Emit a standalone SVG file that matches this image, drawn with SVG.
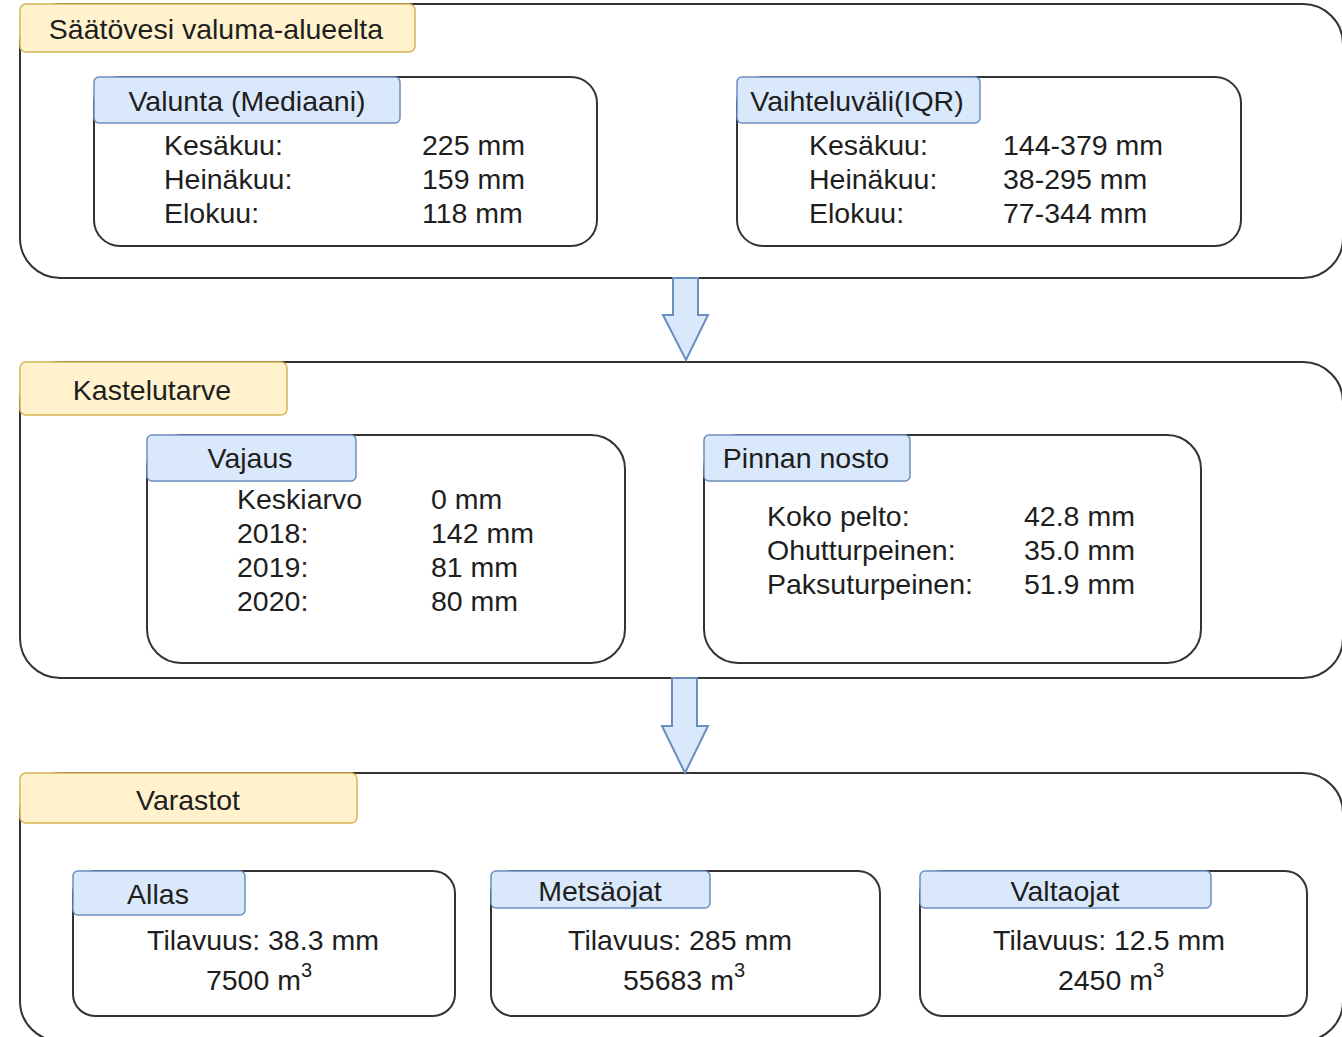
<svg xmlns="http://www.w3.org/2000/svg" width="1342" height="1037" viewBox="0 0 1342 1037">
<style>
.outer{fill:#fff;stroke:#333;stroke-width:2}
.inner{fill:#fff;stroke:#333;stroke-width:2}
.ylab{fill:#fff2cc;stroke:#d6b656;stroke-width:1.5}
.blab{fill:#dae8fc;stroke:#6c8ebf;stroke-width:1.5}
.arrow{fill:#dae8fc;stroke:#6c8ebf;stroke-width:2;stroke-linejoin:miter}
text{font-family:"Liberation Sans",Arial,sans-serif;font-size:28.5px;fill:#1e1e1e}
.c{text-anchor:middle}
.sup{font-size:20px}
</style>
<rect width="1342" height="1037" fill="#fff"/>

<g id="saatovesi">
<rect class="outer" x="20" y="4" width="1323" height="274" rx="40"/>
<rect class="ylab" x="20" y="4" width="395" height="48" rx="6"/>
<text x="216" y="39" class="c">Säätövesi valuma-alueelta</text>
</g>

<g id="valunta">
<rect class="inner" x="94" y="77" width="503" height="169" rx="26"/>
<rect class="blab" x="94" y="77" width="306" height="46" rx="5"/>
<text x="247" y="111" class="c">Valunta (Mediaani)</text>
<text x="164" y="155">Kesäkuu:</text>
<text x="164" y="189">Heinäkuu:</text>
<text x="164" y="223">Elokuu:</text>
<text x="422" y="155">225 mm</text>
<text x="422" y="189">159 mm</text>
<text x="422" y="223">118 mm</text>
</g>

<g id="vaihteluvali">
<rect class="inner" x="737" y="77" width="504" height="169" rx="26"/>
<rect class="blab" x="737" y="77" width="243" height="46" rx="5"/>
<text x="857" y="111" class="c">Vaihteluväli(IQR)</text>
<text x="809" y="155">Kesäkuu:</text>
<text x="809" y="189">Heinäkuu:</text>
<text x="809" y="223">Elokuu:</text>
<text x="1003" y="155">144-379 mm</text>
<text x="1003" y="189">38-295 mm</text>
<text x="1003" y="223">77-344 mm</text>
</g>

<g id="kastelutarve">
<rect class="outer" x="20" y="362" width="1323" height="316" rx="40"/>
<rect class="ylab" x="20" y="362" width="267" height="53" rx="6"/>
<text x="152" y="400" class="c">Kastelutarve</text>
</g>

<g id="vajaus">
<rect class="inner" x="147" y="435" width="478" height="228" rx="34"/>
<rect class="blab" x="147" y="435" width="209" height="46" rx="5"/>
<text x="250" y="468" class="c">Vajaus</text>
<text x="237" y="509">Keskiarvo</text>
<text x="237" y="543">2018:</text>
<text x="237" y="577">2019:</text>
<text x="237" y="611">2020:</text>
<text x="431" y="509">0 mm</text>
<text x="431" y="543">142 mm</text>
<text x="431" y="577">81 mm</text>
<text x="431" y="611">80 mm</text>
</g>

<g id="pinnan-nosto">
<rect class="inner" x="704" y="435" width="497" height="228" rx="34"/>
<rect class="blab" x="704" y="435" width="206" height="46" rx="5"/>
<text x="806" y="468" class="c">Pinnan nosto</text>
<text x="767" y="526">Koko pelto:</text>
<text x="767" y="560">Ohutturpeinen:</text>
<text x="767" y="594">Paksuturpeinen:</text>
<text x="1024" y="526">42.8 mm</text>
<text x="1024" y="560">35.0 mm</text>
<text x="1024" y="594">51.9 mm</text>
</g>

<g id="varastot">
<rect class="outer" x="20" y="773" width="1323" height="268" rx="40"/>
<rect class="ylab" x="20" y="773" width="337" height="50" rx="6"/>
<text x="188" y="810" class="c">Varastot</text>
</g>

<g id="allas">
<rect class="inner" x="73" y="871" width="382" height="145" rx="22"/>
<rect class="blab" x="73" y="871" width="172" height="44" rx="5"/>
<text x="158" y="904" class="c">Allas</text>
<text x="263" y="950" class="c">Tilavuus: 38.3 mm</text>
<text x="259" y="990" class="c">7500 m<tspan class="sup" dy="-13">3</tspan></text>
</g>

<g id="metsaojat">
<rect class="inner" x="491" y="871" width="389" height="145" rx="22"/>
<rect class="blab" x="491" y="871" width="219" height="37" rx="5"/>
<text x="600" y="901" class="c">Metsäojat</text>
<text x="680" y="950" class="c">Tilavuus: 285 mm</text>
<text x="684" y="990" class="c">55683 m<tspan class="sup" dy="-13">3</tspan></text>
</g>

<g id="valtaojat">
<rect class="inner" x="920" y="871" width="387" height="145" rx="22"/>
<rect class="blab" x="920" y="871" width="291" height="37" rx="5"/>
<text x="1065" y="901" class="c">Valtaojat</text>
<text x="1109" y="950" class="c">Tilavuus: 12.5 mm</text>
<text x="1111" y="990" class="c">2450 m<tspan class="sup" dy="-13">3</tspan></text>
</g>

<g id="connectors">
<path class="arrow" d="M673,278 L698,278 L698,315 L708,315 L686,360 L663,315 L673,315 Z"/>
<path class="arrow" d="M672,678 L697,678 L697,726 L708,726 L685,773 L662,726 L672,726 Z"/>
</g>
</svg>
